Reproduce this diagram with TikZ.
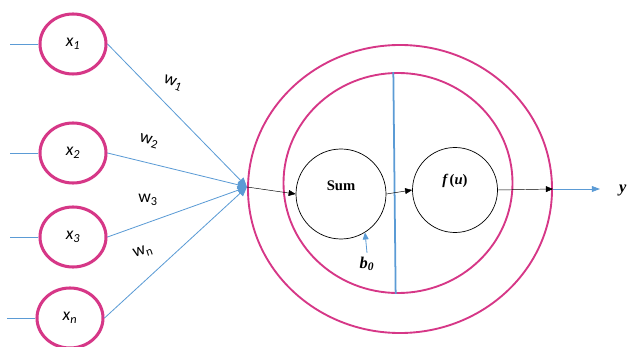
\documentclass[tikz,border=0pt]{standalone}
\usepackage{fontspec}
\setmainfont{Carlito}
\newfontfamily\serifb{Liberation Serif}
\usetikzlibrary{arrows.meta, positioning, shapes}
\definecolor{ringpink}{RGB}{214,55,135}
\definecolor{wireblue}{RGB}{91,155,213}

\begin{document}
\begin{tikzpicture}[x=0.03cm, y=-0.03cm,
  inp/.style={ellipse, draw=ringpink, line width=2.6pt, minimum width=1.98cm, minimum height=1.8cm, inner sep=0pt, font=\fontsize{15}{17}\selectfont\itshape},
  ring/.style={ellipse, draw=ringpink, line width=1.6pt, inner sep=0pt},
  unit/.style={circle, draw, line width=0.6pt, inner sep=0pt},
  wire/.style={wireblue, line width=0.7pt},
  wlab/.style={font=\fontsize{15}{17}\selectfont, inner sep=1pt},
  blk/.style={font=\fontsize{12.5}{14}\selectfont\serifb\bfseries},
  tip/.style={-{Triangle[length=6pt,width=5pt]}}]
  \useasboundingbox (0,0) rectangle (627,347);
  % inputs
  \node[inp] (x1) at (73,44) {x\textsubscript{1}};
  \node[inp] (x2) at (73,153) {x\textsubscript{2}};
  \node[inp] (x3) at (73,237) {x\textsubscript{3}};
  \node[inp] (xn) at (70,318) {x\textsubscript{n}};
  \foreach \n in {x1,x2,x3,xn} {
    \draw[wire] (\n.west) -- ++(-28,0);
  }
  \coordinate (hub) at (247,187);
  \foreach \n in {x1,x2,x3,xn} {
    \draw[wire, -{Triangle[length=8pt,width=7pt]}] (\n.east) -- (hub);
  }
  \node[wlab, rotate=-20] (w1) at (173,83) {w\textsubscript{1}};
  \node[wlab, rotate=-15] (w2) at (149,141) {w\textsubscript{2}};
  \node[wlab] (w3) at (148,200) {w\textsubscript{3}};
  \node[wlab, rotate=18] (wn) at (143,252) {w\textsubscript{n}};
  % neuron
  \node[ring, minimum width=9.12cm, minimum height=8.64cm] (outer) at (400,189) {};
  \node[ring, minimum width=6.87cm, minimum height=6.6cm] (inner) at (398,183) {};
  \draw[wire, line width=1.5pt] ([xshift=-4pt]inner.north) -- ([xshift=-2pt]inner.south);
  \node[unit, minimum size=2.7cm] (sum) at (341,194) {};
  \node[blk] (sumtxt) at (341,186) {Sum};
  \node[unit, minimum size=2.55cm] (act) at (455,190) {};
  \node[blk] (acttxt) at (455,181) {\itshape f\,\upshape(\itshape u\upshape)};
  \draw[tip] (hub) -- (sum.west);
  \draw[tip] (sum.east) -- (act.west);
  \draw[tip] (act.east) -- (outer.east);
  \coordinate (yend) at (600,189);
  \draw[wire, -{Triangle[length=7pt,width=5pt]}] (outer.east) -- (yend);
  \node[blk, font=\fontsize{14}{16}\selectfont\serifb\bfseries\itshape, anchor=west] (yout) at (615,191) {y};
  \node[blk, font=\fontsize{14}{16}\selectfont\serifb\bfseries\itshape] (b0) at (367,264) {b\textsubscript{0}};
  \draw[wire, -{Triangle[length=6pt,width=5pt]}] (b0.north) -- (sum.-58);
\end{tikzpicture}
\end{document}
